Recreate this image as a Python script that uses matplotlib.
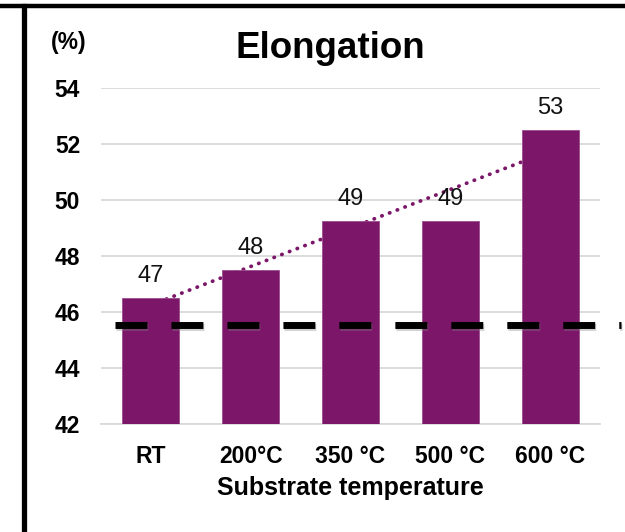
import numpy as np
import matplotlib
matplotlib.use("Agg")
import matplotlib.pyplot as plt
import matplotlib.patheffects as pe
from matplotlib.lines import Line2D

plt.rcParams['font.family'] = ['Liberation Sans', 'DejaVu Sans']

# data
categories = ['RT', '200°C', '350 °C', '500 °C', '600 °C']
elongation = [46.5, 47.5, 49.25, 49.25, 52.5]
bar_labels = ['47', '48', '49', '49', '53']
ref_level = 45.55
ref_span = [-0.36, 4.71]
y_ticks = [42, 44, 46, 48, 50, 52, 54]

bar_color = '#7B1668'
grid_color = '#D9D9D9'

fig = plt.figure(figsize=(6.25, 5.32), dpi=100)
ax = fig.add_axes([0.1616, 0.203, 0.7984, 0.6316])

x = np.arange(len(categories))

# linear trendline (drawn behind the bars)
coef = np.polyfit(x, elongation, 1)
ax.plot(x, np.polyval(coef, x), color=bar_color, lw=2.7,
        linestyle=(0, (0.1, 2.1)), dash_capstyle='round', zorder=2)

bars = ax.bar(x, elongation, width=0.57, bottom=0, color=bar_color,
              edgecolor='#9B4C8D', linewidth=0.6, zorder=3)

for xi, v, lab in zip(x, elongation, bar_labels):
    ax.annotate(lab, (xi, v), xytext=(0, 11.5), textcoords='offset points',
                ha='center', va='baseline', fontsize=17, color='#111111')

# dashed reference line
ax.plot(ref_span, [ref_level, ref_level], color='black', lw=5,
        linestyle=(0, (4.6, 3.46)), dash_capstyle='butt', clip_on=False,
        zorder=5,
        path_effects=[pe.SimpleLineShadow(offset=(0.5, -2), shadow_color='gray', alpha=0.35),
                      pe.Normal()])

ax.set_xlim(-0.5, 4.5)
ax.set_ylim(42, 54)
ax.set_yticks(y_ticks)
ax.set_yticklabels([str(t) for t in y_ticks], fontsize=16.5, fontweight='bold')
ax.set_xticks(x)
ax.set_xticklabels(categories, fontsize=16.5, fontweight='bold')
ax.tick_params(axis='y', length=0, pad=15)
ax.tick_params(axis='x', length=0, pad=15)

ax.grid(axis='y', color=grid_color, lw=1.3, zorder=0)
ax.set_axisbelow(True)
for s in ['left', 'right', 'top']:
    ax.spines[s].set_visible(False)
ax.spines['bottom'].set_color(grid_color)
ax.spines['bottom'].set_linewidth(1.3)

ax.set_xlabel('Substrate temperature', fontsize=18, fontweight='bold', labelpad=6)

fig.text(330 / 625, 1 - 58 / 532, 'Elongation', fontsize=26.5, fontweight='bold',
         ha='center', va='baseline')
fig.text(69 / 625, 1 - 43 / 532, '(%)', fontsize=16.5, fontweight='bold',
         ha='center', va='center')

# frame lines of the surrounding panel
fig.add_artist(Line2D([0, 1], [1 - 6 / 532, 1 - 6 / 532], color='black', lw=3.2,
                      transform=fig.transFigure))
fig.add_artist(Line2D([23.5 / 625, 23.5 / 625], [0, 1 - 6 / 532], color='black', lw=3.8,
                      transform=fig.transFigure))

fig.savefig('out.png', dpi=100)
